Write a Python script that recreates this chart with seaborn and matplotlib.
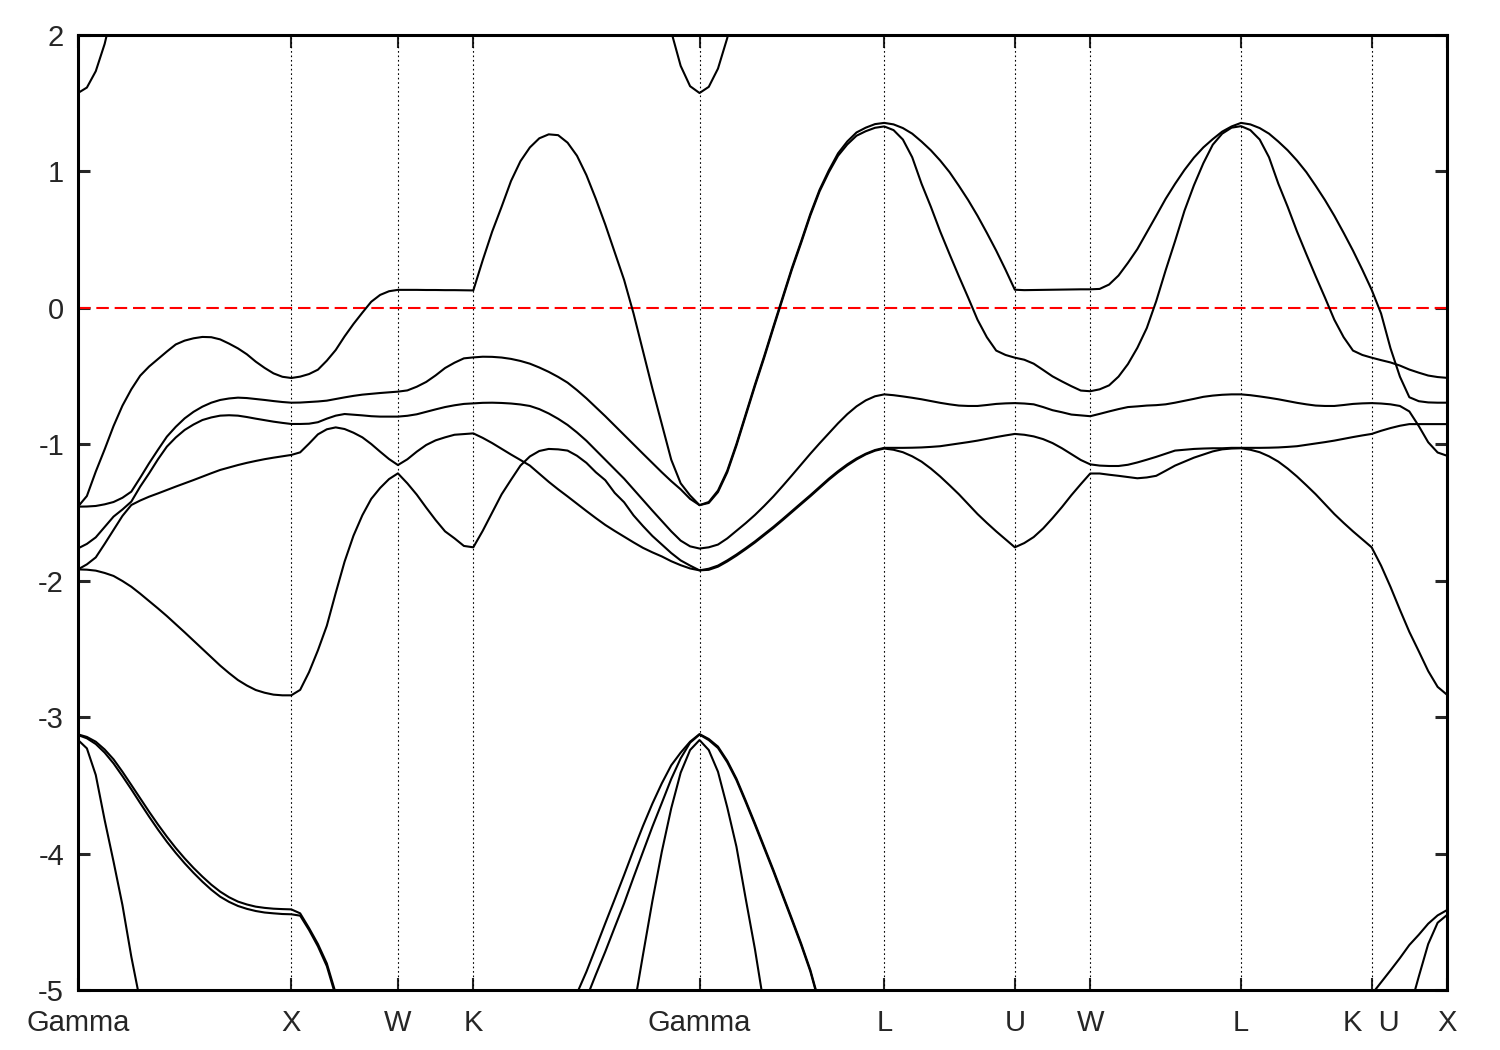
import numpy as np
import pandas as pd
import matplotlib
matplotlib.use('Agg')
import matplotlib.pyplot as plt
import seaborn as sns

nan = np.nan

# high-symmetry points of the fcc path (units of 2pi/a)
sym_labels = ['Gamma', 'X', 'W', 'K', 'Gamma', 'L', 'U', 'W', 'L', 'K  U', 'X']
sym_pos = [0.0, 1.0, 1.5, 1.8536, 2.9142, 3.7803, 4.3927, 4.7462, 5.4533, 6.0657, 6.4193]
seg_steps = [24, 12, 8, 24, 20, 14, 8, 16, 14, 8]   # k-steps per segment

# band energies (eV) read at every k sample, one line per segment
band1 = ([-1.457, -1.379, -1.200, -1.037, -0.866, -0.717, -0.597, -0.497, -0.430, -0.375, -0.320, -0.268, -0.240,
          -0.223, -0.213, -0.215, -0.231, -0.262, -0.297, -0.340, -0.394, -0.440, -0.480, -0.505, -0.514]
         + [-0.504, -0.485, -0.453, -0.387, -0.309, -0.209, -0.118, -0.035, 0.045, 0.095, 0.122, 0.132]
         + [0.132, 0.132, 0.131, 0.131, 0.130, 0.130, 0.129, 0.128]
         + [0.350, 0.559, 0.741, 0.930, 1.075, 1.176, 1.243, 1.272, 1.266, 1.211, 1.115, 0.973,
            0.799, 0.611, 0.408, 0.205, -0.041, -0.316, -0.591, -0.852, -1.113, -1.286, -1.375, -1.446]
         + [-1.423, -1.339, -1.194, -0.997, -0.780, -0.562, -0.354, -0.136, 0.078, 0.292,
            0.487, 0.689, 0.866, 1.008, 1.133, 1.220, 1.286, 1.321, 1.347, 1.356]
         + [1.345, 1.318, 1.277, 1.219, 1.155, 1.080, 0.995, 0.895, 0.790, 0.675, 0.550, 0.420, 0.280, 0.133]
         + [0.130, 0.131, 0.132, 0.133, 0.134, 0.135, 0.136, 0.136]
         + [0.139, 0.171, 0.237, 0.330, 0.431, 0.553, 0.675, 0.799, 0.909, 1.011, 1.101, 1.176,
            1.237, 1.292, 1.330, 1.356]
         + [1.345, 1.318, 1.277, 1.219, 1.155, 1.080, 0.995, 0.895, 0.790, 0.675, 0.550, 0.420, 0.280, 0.133]
         + [-0.041, -0.296, -0.504, -0.655, -0.684, -0.693, -0.695, -0.695])

band2 = ([-1.457, -1.456, -1.452, -1.440, -1.423, -1.392, -1.347, -1.245, -1.139, -1.040, -0.944, -0.872, -0.810,
          -0.762, -0.724, -0.695, -0.675, -0.664, -0.658, -0.661, -0.668, -0.675, -0.683, -0.690, -0.695]
         + [-0.694, -0.690, -0.686, -0.680, -0.668, -0.656, -0.645, -0.636, -0.630, -0.624, -0.619, -0.614]
         + [-0.605, -0.578, -0.543, -0.495, -0.441, -0.402, -0.370, -0.363]
         + [-0.358, -0.359, -0.364, -0.374, -0.389, -0.409, -0.437, -0.469, -0.506, -0.548, -0.603, -0.663,
            -0.728, -0.794, -0.863, -0.933, -1.001, -1.069, -1.137, -1.205, -1.270, -1.330, -1.400, -1.446]
         + [-1.430, -1.350, -1.206, -1.009, -0.792, -0.574, -0.366, -0.148, 0.066, 0.280,
            0.475, 0.677, 0.854, 0.994, 1.115, 1.198, 1.262, 1.295, 1.320, 1.330]
         + [1.303, 1.234, 1.104, 0.910, 0.741, 0.560, 0.394, 0.232, 0.075, -0.087, -0.215, -0.313, -0.345, -0.365]
         + [-0.380, -0.409, -0.455, -0.502, -0.539, -0.574, -0.606, -0.611]
         + [-0.597, -0.568, -0.504, -0.412, -0.293, -0.148, 0.049, 0.275, 0.489, 0.712, 0.898, 1.060,
            1.196, 1.277, 1.321, 1.332]
         + [1.303, 1.234, 1.104, 0.910, 0.741, 0.560, 0.394, 0.232, 0.075, -0.087, -0.215, -0.313, -0.345, -0.365]
         + [-0.383, -0.400, -0.423, -0.452, -0.475, -0.496, -0.507, -0.513])

band3 = ([-1.763, -1.730, -1.682, -1.606, -1.530, -1.478, -1.420, -1.310, -1.213, -1.110, -1.017, -0.950, -0.895,
          -0.855, -0.822, -0.803, -0.790, -0.787, -0.790, -0.800, -0.812, -0.823, -0.834, -0.843, -0.851]
         + [-0.851, -0.849, -0.838, -0.812, -0.790, -0.778, -0.783, -0.788, -0.794, -0.797, -0.797, -0.797]
         + [-0.791, -0.780, -0.762, -0.744, -0.727, -0.714, -0.704, -0.700]
         + [-0.696, -0.695, -0.697, -0.701, -0.708, -0.719, -0.742, -0.774, -0.813, -0.858, -0.913, -0.974,
            -1.043, -1.113, -1.183, -1.252, -1.330, -1.408, -1.486, -1.562, -1.638, -1.706, -1.748, -1.764]
         + [-1.755, -1.735, -1.690, -1.634, -1.578, -1.518, -1.452, -1.382, -1.306, -1.228,
            -1.148, -1.069, -0.993, -0.919, -0.846, -0.779, -0.722, -0.678, -0.648, -0.634]
         + [-0.640, -0.649, -0.659, -0.670, -0.683, -0.696, -0.707, -0.716, -0.719, -0.719, -0.712, -0.704, -0.700, -0.698]
         + [-0.701, -0.707, -0.727, -0.750, -0.765, -0.782, -0.788, -0.794]
         + [-0.777, -0.759, -0.742, -0.727, -0.722, -0.716, -0.713, -0.707, -0.695, -0.681, -0.667, -0.652,
            -0.643, -0.637, -0.634, -0.634]
         + [-0.640, -0.649, -0.659, -0.670, -0.683, -0.696, -0.707, -0.716, -0.719, -0.719, -0.712, -0.704, -0.700, -0.698]
         + [-0.701, -0.707, -0.719, -0.759, -0.866, -0.985, -1.060, -1.084])

band4 = ([-1.917, -1.880, -1.829, -1.730, -1.628, -1.525, -1.445, -1.412, -1.384, -1.360, -1.335, -1.310, -1.286,
          -1.262, -1.237, -1.212, -1.188, -1.170, -1.152, -1.136, -1.122, -1.109, -1.098, -1.088, -1.078]
         + [-1.059, -0.995, -0.927, -0.890, -0.876, -0.888, -0.915, -0.949, -0.998, -1.054, -1.108, -1.152]
         + [-1.110, -1.054, -1.005, -0.971, -0.949, -0.930, -0.925, -0.920]
         + [-0.953, -0.991, -1.033, -1.075, -1.115, -1.156, -1.215, -1.275, -1.330, -1.382, -1.436, -1.489,
            -1.541, -1.591, -1.635, -1.677, -1.719, -1.759, -1.792, -1.822, -1.857, -1.886, -1.910, -1.924]
         + [-1.912, -1.889, -1.851, -1.808, -1.761, -1.712, -1.659, -1.605, -1.548, -1.489,
            -1.431, -1.373, -1.313, -1.252, -1.197, -1.147, -1.104, -1.069, -1.042, -1.026]
         + [-1.026, -1.026, -1.025, -1.023, -1.019, -1.014, -1.004, -0.994, -0.984, -0.973, -0.960, -0.947, -0.935, -0.924]
         + [-0.930, -0.942, -0.962, -0.991, -1.029, -1.072, -1.115, -1.147]
         + [-1.156, -1.159, -1.159, -1.150, -1.133, -1.113, -1.092, -1.069, -1.046, -1.040, -1.034, -1.031,
            -1.029, -1.029, -1.026, -1.026]
         + [-1.026, -1.026, -1.025, -1.023, -1.019, -1.014, -1.004, -0.994, -0.984, -0.973, -0.960, -0.947, -0.935, -0.924]
         + [-0.901, -0.881, -0.864, -0.852, -0.852, -0.852, -0.852, -0.852])

band5 = ([-1.917, -1.919, -1.926, -1.943, -1.965, -2.002, -2.044, -2.095, -2.149, -2.203, -2.259, -2.318, -2.378,
          -2.439, -2.500, -2.561, -2.622, -2.677, -2.728, -2.768, -2.801, -2.821, -2.835, -2.840, -2.840]
         + [-2.800, -2.670, -2.510, -2.330, -2.090, -1.860, -1.670, -1.520, -1.400, -1.320, -1.255, -1.213]
         + [-1.286, -1.369, -1.464, -1.555, -1.638, -1.689, -1.745, -1.755]
         + [-1.634, -1.501, -1.367, -1.260, -1.156, -1.089, -1.049, -1.034, -1.037, -1.046, -1.084, -1.136,
            -1.205, -1.263, -1.356, -1.425, -1.521, -1.599, -1.672, -1.735, -1.797, -1.851, -1.889, -1.924]
         + [-1.920, -1.897, -1.859, -1.816, -1.769, -1.720, -1.667, -1.613, -1.556, -1.497,
            -1.439, -1.381, -1.321, -1.260, -1.205, -1.155, -1.111, -1.074, -1.047, -1.031]
         + [-1.040, -1.058, -1.088, -1.127, -1.178, -1.236, -1.300, -1.366, -1.438, -1.511, -1.576, -1.638, -1.697, -1.755]
         + [-1.724, -1.680, -1.617, -1.541, -1.460, -1.373, -1.292, -1.214]
         + [-1.214, -1.223, -1.231, -1.240, -1.249, -1.243, -1.231, -1.194, -1.156, -1.127, -1.098, -1.075,
            -1.052, -1.037, -1.031, -1.029]
         + [-1.040, -1.058, -1.088, -1.127, -1.178, -1.236, -1.300, -1.366, -1.438, -1.511, -1.576, -1.638, -1.697, -1.755]
         + [-1.889, -2.045, -2.213, -2.375, -2.517, -2.662, -2.778, -2.836])

# conduction band, only seen near the two Gamma points
cond = ([1.575, 1.615, 1.735, 1.935, 2.21, 2.57] + [nan] * 19
        + [nan] * 12 + [nan] * 8
        + [nan] * 19 + [2.37, 2.025, 1.774, 1.625, 1.575]
        + [1.62, 1.754, 1.977, 2.29, 2.65] + [nan] * 15
        + [nan] * 14 + [nan] * 8 + [nan] * 16 + [nan] * 14 + [nan] * 8)

# lower bands near the bottom of the window
low1 = ([-3.126, -3.145, -3.180, -3.237, -3.309, -3.400, -3.497, -3.595, -3.693, -3.787, -3.876, -3.959, -4.035,
         -4.105, -4.169, -4.228, -4.279, -4.320, -4.352, -4.373, -4.389, -4.398, -4.404, -4.407, -4.409]
        + [-4.438, -4.546, -4.663, -4.805, -5.024, -5.30] + [nan] * 6
        + [nan] * 8
        + [nan] * 9 + [-5.20, -5.024, -4.866, -4.690, -4.511, -4.335, -4.157, -3.974, -3.798, -3.634,
                       -3.485, -3.353, -3.260, -3.180, -3.124]
        + [-3.160, -3.216, -3.319, -3.451, -3.612, -3.778, -3.949, -4.120, -4.299, -4.477, -4.658,
           -4.853, -5.098, -5.35] + [nan] * 6
        + [nan] * 14 + [nan] * 8 + [nan] * 16
        + [nan] * 13 + [-5.032]
        + [-4.944, -4.856, -4.766, -4.670, -4.595, -4.514, -4.453, -4.414])

low2 = ([-3.131, -3.155, -3.197, -3.260, -3.339, -3.432, -3.529, -3.630, -3.729, -3.824, -3.913, -3.995, -4.071,
         -4.141, -4.206, -4.265, -4.316, -4.354, -4.384, -4.405, -4.421, -4.432, -4.438, -4.443, -4.445]
        + [-4.455, -4.560, -4.680, -4.825, -5.045, -5.32] + [nan] * 6
        + [nan] * 8
        + [nan] * 9 + [-5.42, -5.25, -5.061, -4.887, -4.719, -4.541, -4.365, -4.174, -3.988, -3.803,
                       -3.629, -3.453, -3.302, -3.187, -3.128]
        + [-3.168, -3.226, -3.330, -3.462, -3.623, -3.789, -3.960, -4.131, -4.310, -4.488, -4.669,
           -4.864, -5.11, -5.36] + [nan] * 6
        + [nan] * 14 + [nan] * 8 + [nan] * 16 + [nan] * 14
        + [nan, nan, -5.6, -5.149, -4.902, -4.663, -4.507, -4.450])

low3 = ([-3.167, -3.229, -3.424, -3.754, -4.059, -4.377, -4.756, -5.085, -5.43] + [nan] * 16
        + [nan] * 12 + [nan] * 8
        + [nan] * 15 + [-5.55, -5.147, -4.743, -4.348, -3.986, -3.668, -3.407, -3.241, -3.168]
        + [-3.241, -3.40, -3.66, -3.95, -4.33, -4.70, -5.12, -5.55] + [nan] * 12
        + [nan] * 14 + [nan] * 8 + [nan] * 16 + [nan] * 14 + [nan] * 8)

# k samples along the path
k = [sym_pos[0]]
for i, n in enumerate(seg_steps):
    k.extend(np.linspace(sym_pos[i], sym_pos[i + 1], n + 1)[1:])
k = np.array(k)

bands = {'cond': cond, 'b1': band1, 'b2': band2, 'b3': band3, 'b4': band4,
         'b5': band5, 'l1': low1, 'l2': low2, 'l3': low3}
frames = []
for name, vals in bands.items():
    if len(vals) != len(k):
        print(name, len(vals), len(k))
    frames.append(pd.DataFrame({'k': k, 'E': vals, 'band': name}))
df = pd.concat(frames, ignore_index=True)

sns.set_style('white')
plt.rcParams['font.family'] = ['Liberation Sans', 'DejaVu Sans']
plt.rcParams['axes.unicode_minus'] = False

fig = plt.figure(figsize=(15, 10.5), dpi=100)
ax = fig.add_axes([0.052, 0.05714, 0.9127, 0.9095])

for x in sym_pos[1:-1]:
    ax.axvline(x, color='black', lw=0.8, ls=(0, (1.5, 2.5)), zorder=1)
ax.axhline(0, color='red', lw=1.5, ls=(0, (6, 2.8)), zorder=1.5)

sns.lineplot(data=df, x='k', y='E', units='band', estimator=None, sort=False,
             color='black', linewidth=1.5, legend=False, ax=ax, zorder=2)

ax.set_xlim(sym_pos[0], sym_pos[-1])
ax.set_ylim(-5, 2)
ax.set_xticks(sym_pos)
ax.set_xticklabels(sym_labels)
ax.set_yticks(range(-5, 3))
ax.set_xlabel('')
ax.set_ylabel('')

for s in ax.spines.values():
    s.set_linewidth(2.2)
    s.set_color('black')
ax.tick_params(axis='y', direction='in', length=8.5, width=2.2, labelsize=21,
               pad=10, left=True, right=True)
ax.tick_params(axis='x', direction='in', length=9, width=1.5, labelsize=21,
               pad=14, bottom=True, top=True)

fig.savefig('out.png', dpi=100, facecolor='white')
